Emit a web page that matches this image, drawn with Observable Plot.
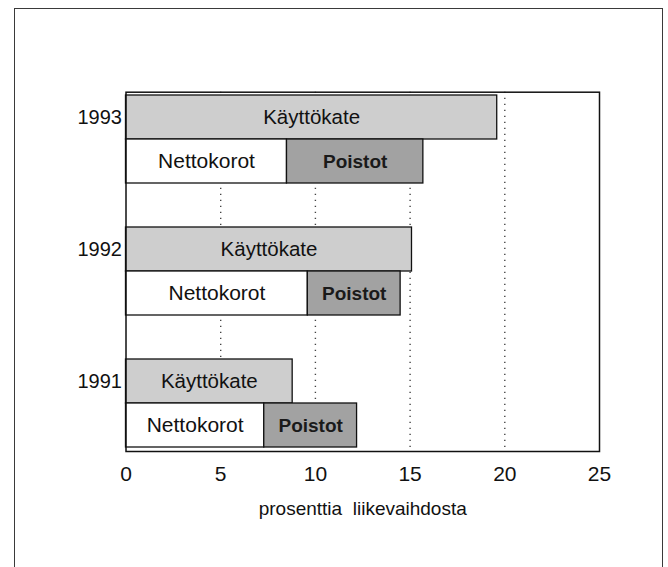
<!DOCTYPE html>
<html>
<head>
<meta charset="utf-8">
<script src="https://cdn.jsdelivr.net/npm/d3@7"></script>
<script src="https://cdn.jsdelivr.net/npm/@observablehq/plot@0.6"></script>
<style>
  html, body { margin: 0; padding: 0; background: #fff; overflow: hidden; }
  #wrap { position: relative; width: 668px; height: 567px; }
  #border { position: absolute; left: 14px; top: 8px; width: 649px; height: 600px;
            border: 1.6px solid #3a3a3a; border-bottom: none; box-sizing: border-box; pointer-events: none; }
  #chart { position: absolute; left: 0; top: 0; }
</style>
</head>
<body>
<div id="wrap"><div id="chart"></div><div id="border"></div></div>
<script>
const years = ["1993", "1992", "1991"];
const kayttokate = [19.6, 15.1, 8.8];
const nettokorot = [8.5, 9.6, 7.3];
const poistot = [7.2, 4.9, 4.9];
const xTicks = [0, 5, 10, 15, 20, 25];
const gridValues = [5, 10, 15, 20];
const labelK = "Käyttökate";
const labelN = "Nettokorot";
const labelP = "Poistot";
const xTitle = "prosenttia\u00a0\u00a0liikevaihdosta";

// row layout: each year has a Käyttökate row and a Nettokorot/Poistot row, with a gap between years
const rows = [];
years.forEach((y, i) => {
  rows.push(y + "|K", y + "|N");
  if (i < years.length - 1) rows.push("gap" + i);
});

const kData = years.map((y, i) => ({row: y + "|K", year: y, v: kayttokate[i]}));
const nData = years.map((y, i) => ({row: y + "|N", year: y, v: nettokorot[i]}));
const pData = years.map((y, i) => ({row: y + "|N", year: y, x1: nettokorot[i], x2: nettokorot[i] + poistot[i]}));

const font = "'Liberation Sans', Arial, Helvetica, sans-serif";
const lightFill = "#cecece";
const darkFill = "#a2a2a2";

const chart = Plot.plot({
  width: 668,
  height: 567,
  marginLeft: 125.5,
  marginRight: 69,
  marginTop: 91.7,
  marginBottom: 116,
  style: {fontFamily: font, fontSize: "20px", color: "#111", background: "transparent"},
  x: {domain: [0, 25]},
  y: {type: "band", domain: rows, padding: 0, axis: null},
  marks: [
    Plot.ruleX(gridValues, {stroke: "#444", strokeWidth: 1.4, strokeDasharray: "1.4,4.6"}),
    Plot.barX(kData, {x1: 0, x2: "v", y: "row", fill: lightFill, stroke: "#111", strokeWidth: 1.3}),
    Plot.barX(nData, {x1: 0, x2: "v", y: "row", fill: "#fff", stroke: "#111", strokeWidth: 1.3}),
    Plot.barX(pData, {x1: "x1", x2: "x2", y: "row", fill: darkFill, stroke: "#111", strokeWidth: 1.3}),
    Plot.text(kData, {x: d => d.v / 2, y: "row", text: () => labelK, fontSize: 20.5, fill: "#111"}),
    Plot.text(nData, {x: d => d.v / 2, y: "row", text: () => labelN, fontSize: 21, fill: "#111"}),
    Plot.text(pData, {x: d => (d.x1 + d.x2) / 2, y: "row", text: () => labelP, fontSize: 19, fontWeight: "bold", fill: "#1a1a1a"}),
    Plot.text(kData, {x: 0, y: "row", text: "year", textAnchor: "end", dx: -4, fontSize: 20, fill: "#111"}),
    Plot.frame({stroke: "#111", strokeWidth: 1.5}),
    Plot.axisX(xTicks, {tickSize: 0, tickPadding: 15, fontSize: 21, label: null, fill: "#111"}),
    Plot.text([xTitle], {frameAnchor: "bottom", dy: 57, lineAnchor: "middle", fontSize: 19, fill: "#111"})
  ]
});
document.getElementById("chart").appendChild(chart);
</script>
</body>
</html>
